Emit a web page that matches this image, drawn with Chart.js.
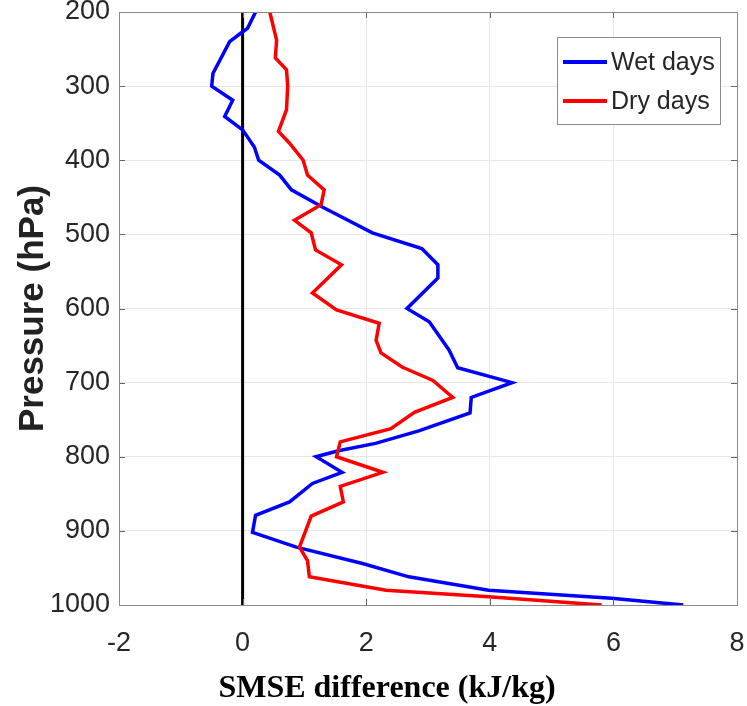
<!DOCTYPE html>
<html>
<head>
<meta charset="utf-8">
<script src="https://cdn.jsdelivr.net/npm/chart.js@4.4.1/dist/chart.umd.min.js"></script>
<style>
  html, body { margin: 0; padding: 0; background: #ffffff; }
  #wrap { width: 747px; height: 706px; }
</style>
</head>
<body>
<div id="wrap"><canvas id="c" width="747" height="706"></canvas></div>
<script>
// ---- data ----
const wetPressure = [200, 222, 228, 240, 283, 300, 319, 341, 359, 382, 400, 420, 440, 463, 498, 519, 541, 559, 600, 618, 656, 680, 700, 720, 741, 765, 782, 792, 800, 821, 836, 861, 879, 902, 922, 944, 962, 980, 991, 1000];
const wetValues   = [0.21, 0.08, -0.02, -0.21, -0.48, -0.50, -0.16, -0.29, 0.00, 0.19, 0.26, 0.60, 0.79, 1.29, 2.10, 2.90, 3.16, 3.16, 2.66, 3.02, 3.34, 3.48, 4.36, 3.70, 3.68, 2.85, 2.15, 1.55, 1.19, 1.61, 1.13, 0.76, 0.21, 0.16, 0.87, 1.94, 2.69, 3.98, 5.97, 7.13];

const dryPressure = [200, 238, 262, 278, 300, 332, 361, 377, 400, 420, 440, 460, 481, 498, 521, 541, 579, 602, 620, 643, 660, 679, 697, 720, 740, 762, 780, 800, 821, 840, 861, 880, 922, 940, 962, 980, 989, 1000];
const dryValues   = [0.44, 0.55, 0.53, 0.71, 0.73, 0.71, 0.58, 0.76, 0.98, 1.05, 1.32, 1.27, 0.84, 1.11, 1.18, 1.60, 1.13, 1.52, 2.21, 2.16, 2.24, 2.58, 3.08, 3.40, 2.78, 2.40, 1.58, 1.52, 2.27, 1.58, 1.63, 1.11, 0.92, 1.05, 1.08, 2.32, 3.98, 5.81];

const zeroPressure = [200, 1000];
const zeroValues   = [0, 0];

const xTicks = [-2, 0, 2, 4, 6, 8];
const yTicks = [200, 300, 400, 500, 600, 700, 800, 900, 1000];

const seriesLabels = ['Wet days', 'Dry days'];
const xTitle = 'SMSE difference (kJ/kg)';
const yTitle = 'Pressure (hPa)';

function toPoints(vals, pres) { return vals.map((v, i) => ({ x: v, y: pres[i] })); }

// ---- plugins ----
const frameAndLegend = {
  id: 'frameAndLegend',
  afterDraw(chart) {
    const { ctx, chartArea: a, scales } = chart;
    ctx.save();
    // inward tick marks
    ctx.strokeStyle = '#666666';
    ctx.lineWidth = 1;
    ctx.beginPath();
    xTicks.forEach(t => {
      const px = Math.round(scales.x.getPixelForValue(t)) + 0.5;
      ctx.moveTo(px, a.bottom); ctx.lineTo(px, a.bottom - 6);
      ctx.moveTo(px, a.top); ctx.lineTo(px, a.top + 6);
    });
    yTicks.forEach(t => {
      const py = Math.round(scales.y.getPixelForValue(t)) + 0.5;
      ctx.moveTo(a.left, py); ctx.lineTo(a.left + 6, py);
      ctx.moveTo(a.right, py); ctx.lineTo(a.right - 6, py);
    });
    ctx.stroke();
    // box
    ctx.strokeStyle = '#8c8c8c';
    ctx.strokeRect(Math.round(a.left) + 0.5, Math.round(a.top) + 0.5, Math.round(a.right - a.left), Math.round(a.bottom - a.top));

    // legend
    const lx = 557, ly = 37, lw = 163, lh = 87;
    ctx.fillStyle = '#ffffff';
    ctx.fillRect(lx, ly, lw, lh);
    ctx.strokeStyle = '#8c8c8c';
    ctx.lineWidth = 1;
    ctx.strokeRect(lx + 0.5, ly + 0.5, lw, lh);
    const order = [1, 0]; // Wet first, then Dry
    const rowsY = [62, 101];
    order.forEach((di, r) => {
      const ds = chart.data.datasets[di];
      ctx.strokeStyle = ds.borderColor;
      ctx.lineWidth = 4;
      ctx.beginPath();
      ctx.moveTo(563, rowsY[r]); ctx.lineTo(607, rowsY[r]);
      ctx.stroke();
      ctx.fillStyle = '#262626';
      ctx.font = '25px "Liberation Sans", Arial, sans-serif';
      ctx.textBaseline = 'middle';
      ctx.textAlign = 'left';
      ctx.fillText(ds.label, 611, rowsY[r] + 1);
    });

    // x-axis title (serif bold, offset like the reference)
    ctx.fillStyle = '#000000';
    ctx.font = 'bold 32px "Liberation Serif", "Times New Roman", serif';
    ctx.textAlign = 'center';
    ctx.textBaseline = 'middle';
    ctx.fillText(xTitle, 387, 689);
    ctx.restore();
  }
};

Chart.defaults.font.family = '"Liberation Sans", Arial, sans-serif';
Chart.defaults.color = '#262626';

new Chart(document.getElementById('c'), {
  type: 'scatter',
  data: {
    datasets: [
      { label: seriesLabels[1], data: toPoints(dryValues, dryPressure), showLine: true,
        borderColor: '#ff0000', backgroundColor: '#ff0000', borderWidth: 3.5, pointRadius: 0, tension: 0 },
      { label: seriesLabels[0], data: toPoints(wetValues, wetPressure), showLine: true,
        borderColor: '#0000ff', backgroundColor: '#0000ff', borderWidth: 3.5, pointRadius: 0, tension: 0 },
      { label: 'zero', data: toPoints(zeroValues, zeroPressure), showLine: true,
        borderColor: '#000000', borderWidth: 3, pointRadius: 0 }
    ]
  },
  options: {
    responsive: false,
    animation: false,
    devicePixelRatio: 1,
    layout: { padding: { top: 12, right: 10, left: 0, bottom: 0 } },
    plugins: { legend: { display: false }, tooltip: { enabled: false } },
    scales: {
      x: {
        type: 'linear', min: -2, max: 8,
        afterBuildTicks: s => { s.ticks = xTicks.map(v => ({ value: v })); },
        afterFit: s => { s.height = 101; s.paddingLeft = 0; s.paddingRight = 0; },
        grid: { color: '#e8e8e8', lineWidth: 1, drawTicks: false },
        border: { display: false },
        ticks: { font: { size: 27 }, padding: 22, color: '#262626', maxRotation: 0,
                 callback: v => String(v) }
      },
      y: {
        type: 'linear', min: 200, max: 1000, reverse: true,
        afterBuildTicks: s => { s.ticks = yTicks.map(v => ({ value: v })); },
        afterFit: s => { s.width = 119; s.paddingTop = 0; s.paddingBottom = 0; },
        grid: { color: '#e8e8e8', lineWidth: 1, drawTicks: false },
        border: { display: false },
        ticks: { font: { size: 27 }, padding: 9, color: '#262626', callback: v => String(v) },
        title: { display: true, text: yTitle, color: '#222222',
                 font: { size: 35, weight: 'bold' }, padding: { top: 12, bottom: 0 } }
      }
    }
  },
  plugins: [frameAndLegend]
});
</script>
</body>
</html>
